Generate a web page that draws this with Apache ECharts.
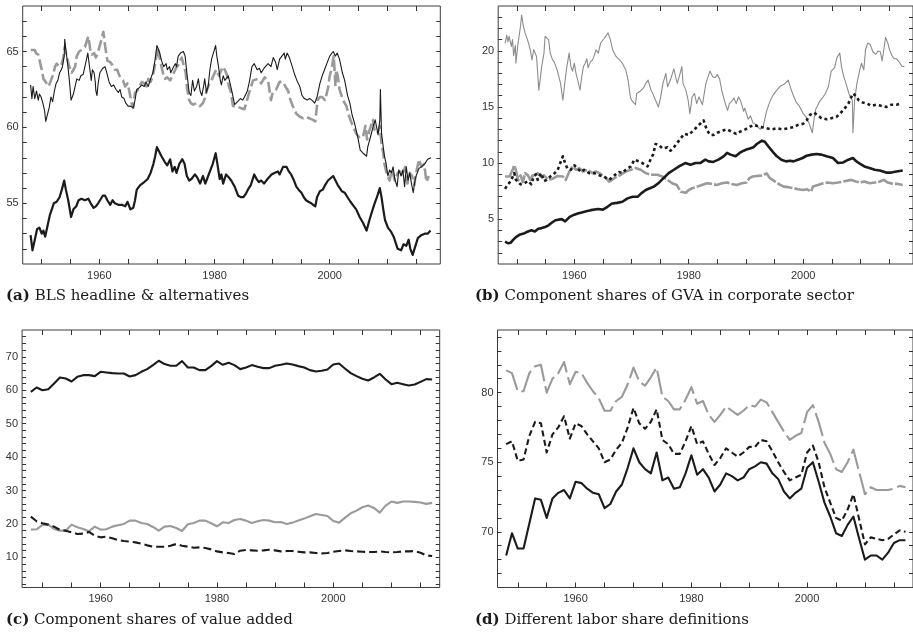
<!DOCTYPE html>
<html><head><meta charset="utf-8">
<script src="https://cdn.jsdelivr.net/npm/echarts@6/dist/echarts.min.js"></script>
<style>html,body{margin:0;padding:0;background:#fff}#c{width:913px;height:632px}</style>
</head><body><div id="c"></div>
<script>
// ---------- tick labels ----------
const xLabelYears = [1960, 1980, 2000];
const xTickYears = [1950, 1955, 1960, 1965, 1970, 1975, 1980, 1985, 1990, 1995, 2000, 2005, 2010, 2015];
const yLabelsA = [55, 60, 65];
const yMinorA = [52, 53, 54, 55, 56, 57, 58, 59, 60, 61, 62, 63, 64, 65, 66, 67];
const yLabelsB = [5, 10, 15, 20];
const yMinorB = [2, 3, 4, 5, 6, 7, 8, 9, 10, 11, 12, 13, 14, 15, 16, 17, 18, 19, 20, 21, 22, 23];
const yLabelsC = [10, 20, 30, 40, 50, 60, 70];
const yMinorC = [2, 4, 6, 8, 10, 12, 14, 16, 18, 20, 22, 24, 26, 28, 30, 32, 34, 36, 38, 40, 42, 44, 46, 48, 50, 52, 54, 56, 58, 60, 62, 64, 66, 68, 70, 72, 74, 76];
const yLabelsD = [70, 75, 80];
const yMinorD = [67, 68, 69, 70, 71, 72, 73, 74, 75, 76, 77, 78, 79, 80, 81, 82, 83, 84];

// ---------- (a) BLS headline & alternatives (quarterly) ----------
const blsHeadline = [[1948.07,62.8],[1948.3,61.9],[1948.5,62.7],[1948.8,61.9],[1949.1,62.4],[1949.4,61.8],[1949.6,62.2],[1949.9,62.0],[1950.2,61.6],[1950.5,61.1],[1950.7,60.4],[1951.0,60.5],[1951.3,61.3],[1951.6,62.0],[1951.9,61.7],[1952.2,62.4],[1952.5,62.9],[1952.8,63.1],[1953.1,63.6],[1953.4,63.8],[1953.6,64.0],[1953.9,64.7],[1954.0,65.8],[1954.2,65.1],[1954.5,64.2],[1954.8,63.1],[1955.1,61.8],[1955.5,62.2],[1955.8,62.7],[1956.1,63.2],[1956.5,63.1],[1956.8,63.4],[1957.2,63.5],[1957.5,64.0],[1958.0,64.9],[1958.3,64.0],[1958.6,63.1],[1958.8,63.8],[1959.1,63.6],[1959.3,63.0],[1959.4,62.4],[1959.6,62.1],[1959.8,62.9],[1960.1,63.6],[1960.6,63.9],[1961.0,64.0],[1961.3,63.6],[1961.7,63.0],[1962.1,62.7],[1962.5,62.8],[1962.9,62.5],[1963.3,62.3],[1963.6,62.5],[1963.9,62.0],[1964.3,61.9],[1964.6,61.6],[1965.0,61.4],[1965.4,61.4],[1965.9,61.3],[1966.2,61.8],[1966.5,62.5],[1966.9,62.6],[1967.4,62.8],[1967.8,62.7],[1968.1,63.0],[1968.5,62.7],[1968.9,63.2],[1969.3,63.6],[1969.7,64.5],[1970.0,65.4],[1970.3,65.1],[1970.5,64.9],[1970.8,64.4],[1971.2,64.0],[1971.6,64.2],[1971.8,63.8],[1972.2,64.0],[1972.4,63.6],[1972.9,64.0],[1973.2,64.2],[1973.4,64.0],[1973.7,64.7],[1974.1,64.9],[1974.6,65.0],[1974.9,64.7],[1975.2,63.6],[1975.6,62.3],[1975.9,62.1],[1976.2,63.1],[1976.5,62.4],[1976.9,62.7],[1977.2,63.2],[1977.5,62.4],[1977.8,62.1],[1978.1,62.7],[1978.3,63.2],[1978.6,62.3],[1978.9,62.7],[1979.2,63.8],[1979.5,64.5],[1979.8,64.9],[1980.2,65.4],[1980.4,64.7],[1980.7,64.0],[1981.0,63.1],[1981.2,62.8],[1981.5,63.4],[1981.8,63.1],[1982.1,63.2],[1982.4,63.4],[1982.7,62.9],[1983.0,62.4],[1983.5,61.5],[1984.0,61.7],[1984.5,61.9],[1984.9,61.8],[1985.2,62.0],[1985.7,62.4],[1986.1,63.1],[1986.5,64.0],[1986.9,64.2],[1987.4,63.8],[1987.8,63.9],[1988.1,63.6],[1988.6,63.9],[1988.9,63.8],[1989.3,64.2],[1989.8,64.0],[1990.2,64.6],[1990.6,64.3],[1990.9,63.8],[1991.3,64.5],[1991.7,64.7],[1992.1,64.9],[1992.3,64.5],[1992.6,64.9],[1993.0,64.6],[1993.5,64.0],[1993.9,63.5],[1994.3,63.1],[1994.8,62.7],[1995.2,62.1],[1995.6,61.9],[1996.1,61.8],[1996.5,61.9],[1996.9,61.8],[1997.4,61.6],[1997.8,62.0],[1998.3,62.9],[1998.7,63.4],[1999.1,63.8],[1999.6,64.3],[2000.0,64.7],[2000.6,65.0],[2001.0,64.7],[2001.3,64.9],[2001.7,64.5],[2002.2,63.6],[2002.6,63.1],[2003.1,62.1],[2003.5,61.6],[2003.9,60.8],[2004.3,60.3],[2004.6,59.8],[2004.9,59.3],[2005.3,58.5],[2005.8,58.3],[2006.4,58.1],[2006.6,58.7],[2007.1,59.4],[2007.5,60.0],[2007.9,60.5],[2008.4,59.5],[2008.7,60.5],[2008.8,62.5],[2009.0,59.6],[2009.3,58.7],[2009.5,58.1],[2009.8,57.6],[2010.1,56.8],[2010.4,57.2],[2010.7,57.0],[2011.0,57.4],[2011.3,56.6],[2011.7,56.1],[2012.0,57.2],[2012.4,56.8],[2012.7,57.2],[2013.0,56.1],[2013.3,57.4],[2013.6,56.5],[2013.9,57.0],[2014.2,56.3],[2014.5,55.7],[2014.8,56.5],[2015.0,56.8],[2015.5,57.3],[2015.9,57.4],[2016.5,57.6],[2017.0,57.9],[2017.6,58.0]];
const blsAlternative = [[1948.1,65.1],[1948.8,65.1],[1949.0,64.9],[1949.4,64.8],[1949.7,64.3],[1950.0,63.8],[1950.3,63.2],[1950.7,63.0],[1951.2,62.7],[1951.4,62.9],[1951.7,63.2],[1952.0,63.5],[1952.3,64.0],[1952.6,64.2],[1953.1,64.0],[1953.5,64.2],[1953.8,64.7],[1954.0,65.3],[1954.3,64.7],[1954.8,64.0],[1955.2,63.6],[1955.5,63.8],[1955.8,64.0],[1956.1,64.7],[1956.5,65.0],[1956.9,65.1],[1957.5,65.3],[1958.1,66.0],[1958.4,65.2],[1958.7,64.8],[1959.1,64.9],[1959.4,64.6],[1959.8,65.0],[1960.3,65.7],[1960.7,66.3],[1961.0,65.4],[1961.4,64.4],[1961.9,64.3],[1962.3,64.1],[1962.7,63.8],[1963.1,63.8],[1963.6,63.3],[1964.1,63.1],[1964.5,62.7],[1964.9,62.9],[1965.2,62.4],[1965.6,61.6],[1965.9,61.3],[1966.2,62.3],[1966.6,62.4],[1966.9,62.7],[1967.4,63.0],[1967.8,62.9],[1968.2,62.7],[1968.5,63.2],[1968.9,63.0],[1969.3,63.4],[1969.6,64.0],[1970.0,64.9],[1970.1,65.3],[1970.4,64.7],[1970.8,64.0],[1971.1,63.5],[1971.4,63.2],[1971.8,63.3],[1972.3,63.1],[1972.7,63.4],[1973.0,63.3],[1973.3,63.9],[1973.7,64.1],[1974.3,64.6],[1974.6,64.7],[1975.0,63.6],[1975.2,62.7],[1975.6,61.8],[1975.9,61.6],[1976.3,61.5],[1976.9,61.6],[1977.5,61.4],[1978.0,61.6],[1978.4,62.0],[1978.6,62.4],[1979.1,62.9],[1979.5,63.1],[1979.8,63.4],[1980.3,63.8],[1980.5,63.6],[1980.8,63.4],[1981.2,63.8],[1981.5,64.0],[1981.9,63.7],[1982.2,63.4],[1982.5,62.7],[1982.8,62.4],[1983.2,61.4],[1983.8,61.4],[1984.4,61.3],[1985.2,61.2],[1986.1,62.4],[1986.7,63.1],[1987.5,63.2],[1988.1,62.9],[1988.7,63.3],[1989.3,63.1],[1989.8,61.8],[1990.1,62.3],[1990.7,62.5],[1991.3,63.0],[1991.9,63.0],[1992.3,62.7],[1992.8,62.4],[1993.0,62.0],[1993.6,61.4],[1994.2,60.9],[1994.8,60.7],[1995.4,60.6],[1995.9,60.7],[1997.1,60.5],[1997.5,60.4],[1997.9,61.8],[1998.3,62.0],[1998.7,62.0],[1999.2,61.8],[1999.7,62.6],[2000.0,63.4],[2000.3,63.8],[2000.7,64.7],[2001.0,62.7],[2001.1,63.8],[2001.4,63.4],[2001.7,62.5],[2002.3,61.8],[2002.9,61.4],[2003.4,60.7],[2004.0,60.1],[2004.6,59.6],[2005.2,59.3],[2005.8,59.4],[2006.2,60.1],[2006.5,59.2],[2006.9,59.8],[2007.5,60.5],[2007.8,59.8],[2008.3,59.6],[2008.7,60.1],[2009.0,58.9],[2009.3,58.3],[2009.5,57.6],[2010.0,56.8],[2010.4,56.5],[2010.8,57.2],[2011.3,56.5],[2011.8,57.0],[2012.2,57.1],[2012.6,56.8],[2013.1,57.4],[2013.5,56.3],[2013.9,57.0],[2014.3,56.8],[2014.7,56.2],[2014.9,56.8],[2015.5,57.9],[2015.9,57.4],[2016.4,57.6],[2016.8,56.4],[2017.2,56.8]];
const blsLowest = [[1948.07,52.9],[1948.4,51.9],[1948.8,52.6],[1949.2,53.3],[1949.6,53.4],[1950.0,53.0],[1950.3,53.2],[1950.6,52.8],[1951.0,53.5],[1951.4,54.2],[1951.7,54.1],[1952.1,55.0],[1952.6,55.1],[1953.1,55.4],[1953.5,55.9],[1953.9,56.5],[1954.2,55.9],[1954.6,55.2],[1955.1,54.1],[1955.5,54.6],[1956.0,54.8],[1956.4,55.2],[1956.9,55.3],[1957.5,55.2],[1958.1,55.3],[1958.5,55.0],[1959.0,54.7],[1959.4,54.8],[1959.8,55.0],[1960.6,55.5],[1961.0,55.5],[1961.4,55.2],[1961.9,54.9],[1962.3,55.2],[1962.7,55.0],[1963.3,54.9],[1963.9,54.9],[1964.5,54.8],[1964.9,55.1],[1965.4,54.6],[1965.9,54.7],[1966.2,55.2],[1966.5,55.9],[1967.1,56.2],[1967.8,56.4],[1968.4,56.6],[1968.9,57.0],[1969.4,57.6],[1969.7,58.1],[1970.0,58.7],[1970.4,58.4],[1970.8,58.1],[1971.4,57.7],[1971.8,57.5],[1972.3,57.9],[1972.7,57.1],[1973.1,57.4],[1973.4,57.0],[1973.9,57.6],[1974.4,57.9],[1974.8,57.6],[1975.2,56.8],[1975.6,56.5],[1976.0,56.6],[1976.6,56.9],[1977.0,56.7],[1977.5,56.3],[1978.0,56.8],[1978.4,56.3],[1978.8,56.7],[1979.2,57.1],[1979.7,57.6],[1980.2,58.3],[1980.5,57.6],[1980.9,56.6],[1981.2,56.9],[1981.5,56.3],[1982.0,56.9],[1982.5,56.7],[1982.9,56.5],[1983.5,56.1],[1984.1,55.5],[1984.6,55.4],[1985.0,55.4],[1985.4,55.6],[1985.8,55.9],[1986.3,56.2],[1986.9,56.9],[1987.3,56.6],[1987.7,56.4],[1988.1,56.5],[1988.6,56.3],[1989.2,56.6],[1989.9,56.9],[1990.4,57.0],[1991.0,57.1],[1991.3,56.9],[1991.9,57.4],[1992.5,57.4],[1992.9,57.1],[1993.3,56.9],[1993.8,56.5],[1994.2,56.1],[1994.6,55.9],[1995.1,55.7],[1995.5,55.4],[1995.9,55.2],[1996.3,55.1],[1996.8,55.0],[1997.5,54.8],[1997.8,55.4],[1998.3,55.8],[1998.8,55.9],[1999.2,56.2],[1999.7,56.5],[2000.6,56.8],[2001.0,56.5],[2001.4,56.2],[2002.1,55.8],[2002.6,55.7],[2003.1,55.4],[2003.6,55.1],[2004.2,54.8],[2004.6,54.6],[2005.2,54.1],[2005.8,53.7],[2006.4,53.2],[2006.9,53.9],[2007.3,54.4],[2007.8,55.0],[2008.2,55.4],[2008.7,56.0],[2009.0,55.4],[2009.3,54.6],[2009.6,53.9],[2010.1,53.4],[2010.7,53.1],[2011.1,52.8],[2011.8,52.0],[2012.4,51.9],[2012.8,52.3],[2013.3,52.2],[2013.7,52.6],[2014.0,52.0],[2014.4,51.6],[2014.8,52.1],[2015.3,52.7],[2015.9,52.9],[2016.5,53.0],[2017.0,53.0],[2017.5,53.2]];

// ---------- (b) Component shares of GVA in corporate sector ----------
const gvaThinGrey = [[1947.9,20.7],[1948.2,21.4],[1948.4,20.8],[1948.6,21.3],[1949.0,20.4],[1949.2,21.0],[1949.4,19.6],[1949.7,20.5],[1949.8,18.9],[1950.1,20.4],[1950.6,22.2],[1950.8,23.2],[1951.1,22.2],[1951.4,21.6],[1951.7,21.7],[1952.0,20.7],[1952.3,20.1],[1952.6,19.2],[1952.9,20.1],[1953.1,20.2],[1953.4,19.5],[1953.6,18.0],[1953.8,16.5],[1954.1,17.7],[1954.3,18.6],[1954.7,19.8],[1954.9,21.3],[1955.2,21.3],[1955.5,21.0],[1955.8,19.8],[1956.2,19.2],[1956.5,19.0],[1957.0,18.3],[1957.6,17.1],[1958.0,15.6],[1958.4,17.4],[1958.7,18.6],[1959.1,19.8],[1959.4,18.6],[1959.7,18.2],[1960.0,18.9],[1960.3,18.0],[1960.6,17.4],[1961.0,16.5],[1961.3,17.7],[1961.6,18.6],[1961.9,18.9],[1962.2,19.3],[1962.4,18.5],[1962.8,19.0],[1963.2,19.2],[1963.5,19.6],[1963.8,20.1],[1964.2,19.8],[1964.6,20.7],[1965.2,21.1],[1965.9,21.6],[1966.3,21.0],[1966.7,20.1],[1967.3,19.5],[1967.7,19.3],[1968.1,19.1],[1968.4,18.9],[1969.0,18.3],[1969.4,17.4],[1969.8,15.9],[1970.0,15.6],[1970.7,15.2],[1970.9,16.2],[1971.5,16.4],[1972.1,16.7],[1972.5,17.1],[1972.9,17.4],[1973.4,16.5],[1973.8,16.1],[1974.2,15.6],[1974.7,15.0],[1975.1,15.9],[1975.5,17.1],[1976.0,18.0],[1976.3,16.8],[1976.8,17.4],[1977.4,18.4],[1977.7,17.7],[1978.0,17.1],[1978.5,18.0],[1978.8,18.6],[1979.0,17.1],[1979.5,16.5],[1979.9,15.6],[1980.2,14.4],[1980.6,15.9],[1981.0,16.2],[1981.4,15.3],[1981.8,15.9],[1982.4,15.2],[1983.0,17.1],[1983.7,18.2],[1984.2,17.7],[1984.6,17.6],[1985.0,17.9],[1985.4,17.5],[1985.8,16.4],[1986.4,15.3],[1986.8,14.7],[1987.1,15.3],[1987.5,15.5],[1987.9,15.8],[1988.3,15.3],[1988.7,15.9],[1989.1,15.5],[1989.6,14.6],[1989.8,14.9],[1990.4,13.9],[1990.8,14.2],[1991.2,13.6],[1991.8,13.4],[1992.5,13.0],[1993.0,13.2],[1993.6,14.6],[1994.2,15.5],[1994.8,16.1],[1995.4,16.5],[1995.7,16.4],[1996.1,16.9],[1996.6,17.0],[1997.4,17.4],[1997.8,16.7],[1998.3,16.0],[1998.8,15.4],[1999.3,15.1],[1999.9,14.5],[2000.5,14.1],[2001.0,13.6],[2001.6,12.7],[2001.9,13.9],[2002.2,14.8],[2002.9,15.5],[2003.5,15.9],[2003.9,16.2],[2004.4,16.8],[2004.9,18.2],[2005.5,18.5],[2005.9,19.4],[2006.4,19.8],[2006.7,18.6],[2007.1,17.7],[2007.6,16.9],[2008.0,16.2],[2008.3,15.8],[2008.6,15.6],[2008.7,12.7],[2009.0,15.6],[2009.4,17.1],[2009.9,18.3],[2010.2,18.9],[2010.6,18.3],[2010.9,20.1],[2011.3,20.7],[2011.7,20.6],[2012.2,19.9],[2012.7,19.7],[2013.1,20.0],[2013.5,19.9],[2013.8,19.1],[2014.1,20.1],[2014.4,21.2],[2014.8,20.7],[2015.1,20.1],[2015.5,19.6],[2015.9,19.3],[2016.3,19.3],[2016.8,19.0],[2017.3,18.6],[2017.7,18.6]];
const gvaDotted = [[1947.9,7.7],[1948.4,8.1],[1948.9,8.4],[1949.5,9.1],[1949.8,8.5],[1950.6,8.1],[1951.3,8.2],[1951.9,8.4],[1952.5,8.1],[1952.9,8.8],[1953.3,9.0],[1953.6,8.5],[1954.2,9.1],[1954.7,8.4],[1955.2,8.5],[1955.8,8.8],[1956.4,9.0],[1957.1,9.4],[1958.0,10.6],[1958.4,10.0],[1958.8,9.5],[1959.4,9.4],[1960.0,9.8],[1960.6,9.5],[1961.2,9.2],[1961.7,9.4],[1962.6,9.1],[1963.5,9.1],[1964.4,8.9],[1965.2,8.8],[1966.1,8.5],[1967.0,8.9],[1967.8,9.2],[1968.4,9.1],[1969.0,9.4],[1969.9,9.7],[1970.5,10.3],[1971.0,10.2],[1971.9,10.0],[1972.8,9.7],[1973.4,10.4],[1973.8,10.8],[1974.2,11.7],[1974.8,11.6],[1975.4,11.3],[1976.3,11.4],[1976.8,11.1],[1977.4,11.4],[1978.3,12.0],[1979.2,12.6],[1980.0,12.5],[1980.6,12.8],[1981.2,13.1],[1982.0,13.5],[1982.6,13.8],[1983.2,12.9],[1983.8,12.5],[1984.3,12.5],[1985.0,12.7],[1986.0,12.9],[1986.7,13.0],[1987.5,12.8],[1988.3,12.6],[1989.0,12.8],[1989.9,13.0],[1990.6,13.2],[1991.3,13.4],[1992.0,13.3],[1992.8,13.2],[1993.6,13.1],[1994.5,13.0],[1995.4,13.1],[1996.4,13.0],[1997.4,13.1],[1998.3,13.2],[1999.1,13.4],[2000.0,13.5],[2000.6,13.8],[2001.2,14.3],[2001.9,14.5],[2002.4,14.3],[2003.2,14.0],[2004.1,13.9],[2004.9,14.0],[2005.8,14.1],[2006.4,14.4],[2007.0,14.7],[2007.9,15.3],[2008.7,16.2],[2009.2,16.0],[2009.7,15.6],[2010.4,15.4],[2011.2,15.3],[2011.9,15.1],[2012.8,15.2],[2013.6,15.1],[2014.5,15.0],[2015.4,15.2],[2016.3,15.2],[2017.1,15.3]];
const gvaBlack = [[1947.9,3.0],[1948.4,2.85],[1948.9,2.9],[1949.3,3.15],[1949.8,3.4],[1950.4,3.6],[1951.3,3.75],[1951.9,3.9],[1952.5,4.0],[1953.1,3.9],[1953.7,4.15],[1954.3,4.2],[1954.9,4.3],[1955.5,4.45],[1956.1,4.7],[1956.7,4.9],[1957.8,5.0],[1958.4,4.8],[1959.2,5.2],[1960.0,5.4],[1960.6,5.5],[1961.3,5.6],[1962.1,5.7],[1962.9,5.8],[1964.1,5.9],[1965.0,5.85],[1965.8,6.1],[1966.6,6.4],[1967.5,6.45],[1968.4,6.55],[1969.3,6.85],[1970.2,7.0],[1971.1,7.0],[1971.7,7.3],[1972.5,7.6],[1973.2,7.75],[1973.9,7.9],[1974.8,8.25],[1975.6,8.65],[1976.5,9.1],[1977.4,9.4],[1978.3,9.7],[1979.4,10.0],[1980.3,9.85],[1981.2,10.0],[1982.0,10.0],[1982.9,10.3],[1983.5,10.15],[1984.3,10.1],[1985.2,10.3],[1986.1,10.6],[1986.7,10.9],[1987.3,10.75],[1988.2,10.6],[1988.9,10.9],[1989.6,11.1],[1990.1,11.2],[1990.7,11.3],[1991.3,11.4],[1991.9,11.7],[1992.8,12.0],[1993.3,11.9],[1993.9,11.5],[1994.7,11.0],[1995.4,10.6],[1996.2,10.3],[1997.0,10.15],[1997.7,10.2],[1998.3,10.15],[1999.1,10.3],[1999.9,10.45],[2000.6,10.65],[2001.5,10.75],[2002.3,10.8],[2003.2,10.75],[2004.1,10.6],[2005.2,10.45],[2006.1,10.0],[2007.0,10.05],[2007.9,10.3],[2008.7,10.45],[2009.3,10.15],[2010.2,9.85],[2010.7,9.7],[2011.6,9.55],[2012.5,9.4],[2013.4,9.34],[2014.5,9.15],[2015.4,9.15],[2016.3,9.25],[2017.4,9.34]];
const gvaThickGrey = [[1947.9,8.8],[1948.7,8.8],[1949.3,9.5],[1949.5,9.8],[1949.8,9.35],[1950.2,8.45],[1950.6,8.9],[1951.0,8.3],[1951.4,9.1],[1951.9,8.9],[1952.3,8.5],[1952.7,8.9],[1953.1,8.8],[1953.6,9.1],[1954.2,8.8],[1954.7,8.9],[1955.4,8.5],[1956.2,8.6],[1957.1,8.85],[1958.0,8.8],[1958.5,8.5],[1959.1,9.2],[1959.7,9.7],[1960.3,9.4],[1960.9,9.55],[1961.5,9.25],[1962.3,9.4],[1963.2,9.1],[1963.8,9.25],[1964.4,9.1],[1965.2,8.8],[1966.1,8.35],[1967.0,8.65],[1968.1,8.95],[1969.0,9.25],[1969.9,9.4],[1970.7,9.55],[1971.6,9.4],[1972.5,9.1],[1973.4,8.95],[1974.5,8.95],[1975.4,8.8],[1976.3,8.5],[1977.1,8.2],[1977.9,8.05],[1978.6,7.45],[1979.5,7.35],[1980.0,7.6],[1980.6,7.75],[1981.5,7.9],[1982.3,8.05],[1983.2,8.2],[1984.0,8.14],[1984.9,8.05],[1985.8,8.2],[1986.7,8.26],[1987.5,8.14],[1988.4,8.05],[1989.3,8.2],[1990.1,8.26],[1990.6,8.65],[1991.2,8.8],[1992.2,8.86],[1993.0,8.89],[1993.6,9.09],[1994.2,8.65],[1995.1,8.35],[1996.0,8.05],[1996.6,7.9],[1997.4,7.85],[1998.3,7.76],[1999.1,7.67],[2000.0,7.6],[2000.6,7.67],[2001.4,7.46],[2001.7,7.9],[2002.6,8.05],[2003.5,8.2],[2004.3,8.26],[2005.2,8.2],[2006.1,8.26],[2007.0,8.35],[2008.4,8.5],[2009.2,8.35],[2009.9,8.26],[2010.7,8.35],[2011.6,8.2],[2012.5,8.26],[2013.4,8.35],[2014.1,8.5],[2014.8,8.26],[2015.7,8.14],[2016.6,8.14],[2017.4,8.05]];

// ---------- (c) and (d): annual ----------
const years = [1948,1949,1950,1951,1952,1953,1954,1955,1956,1957,1958,1959,1960,1961,1962,1963,1964,1965,1966,1967,1968,1969,1970,1971,1972,1973,1974,1975,1976,1977,1978,1979,1980,1981,1982,1983,1984,1985,1986,1987,1988,1989,1990,1991,1992,1993,1994,1995,1996,1997,1998,1999,2000,2001,2002,2003,2004,2005,2006,2007,2008,2009,2010,2011,2012,2013,2014,2015,2016,2017];
const vaLabor = [59.5,60.8,60.0,60.3,62.0,63.8,63.5,62.6,64.0,64.5,64.5,64.2,65.5,65.3,65.1,65.0,65.0,64.1,64.5,65.5,66.3,67.5,68.8,67.8,67.3,67.3,68.7,66.8,66.8,66.0,66.0,67.2,68.7,67.6,68.2,67.5,66.3,66.8,67.5,67.0,66.6,66.6,67.3,67.6,68.0,67.7,67.2,66.8,66.0,65.6,65.8,66.2,67.7,68.0,66.5,65.1,64.2,63.4,62.9,63.8,64.9,63.2,61.8,62.2,61.8,61.4,61.7,62.5,63.3,63.2];
const vaCapital = [18.3,18.4,19.7,19.8,18.5,18.0,18.0,19.8,19.0,18.5,17.8,19.2,18.3,18.4,19.2,19.6,20.0,21.0,21.0,20.3,20.0,19.1,18.0,19.2,19.4,18.8,17.9,19.9,20.3,21.0,21.0,20.2,19.3,20.5,20.3,21.2,21.5,21.0,20.3,20.8,21.2,21.0,20.5,20.6,20.0,20.4,21.0,21.6,22.3,23.0,22.7,22.4,20.9,20.4,21.8,23.2,24.0,25.0,25.5,24.8,23.4,25.5,26.7,26.3,26.7,26.7,26.6,26.4,26.0,26.3];
const vaOther = [22.2,20.8,20.2,19.8,19.2,18.2,18.0,17.5,17.0,17.1,17.6,16.5,16.0,16.2,15.7,15.2,14.9,14.7,14.5,14.1,13.6,13.2,13.2,13.2,13.5,14.0,13.5,13.2,12.9,13.0,12.8,12.4,11.8,11.5,11.3,11.0,12.0,12.2,12.1,12.0,12.1,12.3,12.1,11.8,11.9,11.9,11.7,11.5,11.5,11.3,11.2,11.3,11.7,11.9,12.1,11.9,11.8,11.7,11.6,11.6,11.8,11.6,11.5,11.6,11.8,11.8,11.9,11.4,10.6,10.4];
const lsGrey = [81.6,81.4,80.1,80.1,81.4,81.9,82.0,80.0,81.0,81.4,82.2,80.6,81.5,81.4,80.7,80.1,79.6,78.7,78.7,79.4,79.7,80.6,81.8,80.8,80.5,81.1,81.8,79.7,79.4,78.8,78.8,79.5,80.4,79.2,79.4,78.4,77.9,78.4,79.0,78.7,78.4,78.7,79.1,79.0,79.5,79.3,78.6,77.9,77.2,76.6,76.9,77.1,78.6,79.1,77.9,76.4,75.6,74.5,74.3,75.0,75.9,74.3,72.7,73.2,73.0,73.0,73.0,73.1,73.3,73.2];
const lsDashed = [76.3,76.5,75.1,75.2,76.9,77.9,77.8,75.7,77.0,77.5,78.3,76.7,77.8,77.6,77.0,76.5,76.0,75.0,75.2,75.9,76.4,77.5,78.9,77.8,77.4,77.9,78.8,76.6,76.3,75.6,75.6,76.5,77.6,76.3,76.5,75.6,74.8,75.3,76.0,75.7,75.4,75.7,76.1,76.1,76.6,76.5,75.8,75.0,74.3,73.7,73.9,74.1,75.7,76.2,75.0,73.2,72.1,71.0,70.8,71.6,72.7,70.9,69.1,69.6,69.5,69.4,69.5,69.8,70.1,70.0];
const lsSolid = [68.3,69.9,68.8,68.8,70.6,72.4,72.3,71.0,72.4,72.8,73.0,72.4,73.6,73.5,73.1,72.8,72.7,71.7,72.0,72.9,73.4,74.6,76.0,75.0,74.5,74.2,75.7,73.7,73.9,73.1,73.2,74.2,75.5,74.1,74.5,73.9,72.9,73.4,74.2,74.0,73.7,73.9,74.5,74.7,75.0,74.9,74.2,73.8,72.9,72.4,72.8,73.1,74.6,75.0,73.6,72.1,71.1,69.9,69.7,70.5,71.1,69.5,68.0,68.3,68.3,68.0,68.5,69.2,69.4,69.4];

const captions = [
  ['(a)', 'BLS headline & alternatives'],
  ['(b)', 'Component shares of GVA in corporate sector'],
  ['(c)', 'Component shares of value added'],
  ['(d)', 'Different labor share definitions']
];

// ---------- layout ----------
const BLACK = '#1b1b1b', GREY = '#9a9a9a';
const pair = (xs, ys) => xs.map((x, i) => [x, ys[i]]);
const panels = [
  {left: 22.7, top: 6, width: 417.6, height: 258, xMin: 1946.7, xMax: 2019.2, yMin: 51, yMax: 68, yLab: yLabelsA, yTick: yMinorA, capX: 6, capY: 289,
   lines: [
     {d: blsAlternative, c: GREY, w: 2.6, t: [11, 4]},
     {d: blsHeadline, c: BLACK, w: 1.1, t: 'solid'},
     {d: blsLowest, c: BLACK, w: 2.2, t: 'solid'}]},
  {left: 498.2, top: 6, width: 417.6, height: 258, xMin: 1946.7, xMax: 2019.2, yMin: 1, yMax: 24, yLab: yLabelsB, yTick: yMinorB, capX: 475, capY: 289,
   lines: [
     {d: gvaThinGrey, c: '#8c8c8c', w: 1.1, t: 'solid'},
     {d: gvaThickGrey, c: GREY, w: 2.6, t: [16, 2]},
     {d: gvaBlack, c: BLACK, w: 2.6, t: 'solid'},
     {d: gvaDotted, c: BLACK, w: 2.6, t: [3, 3]}]},
  {left: 22.1, top: 330, width: 417.6, height: 257.5, xMin: 1946.5, xMax: 2018.3, yMin: 1, yMax: 78, yLab: yLabelsC, yTick: yMinorC, capX: 6, capY: 612.5,
   lines: [
     {d: pair(years, vaCapital), c: GREY, w: 2.1, t: 'solid'},
     {d: pair(years, vaOther), c: BLACK, w: 2.1, t: [8, 4]},
     {d: pair(years, vaLabor), c: BLACK, w: 2.1, t: 'solid'}]},
  {left: 497.5, top: 330, width: 417.6, height: 257.5, xMin: 1946.5, xMax: 2018.3, yMin: 66, yMax: 84.5, yLab: yLabelsD, yTick: yMinorD, capX: 475, capY: 612.5,
   lines: [
     {d: pair(years, lsGrey), c: GREY, w: 2.1, t: [24, 5]},
     {d: pair(years, lsDashed), c: BLACK, w: 2.1, t: [6, 3.5]},
     {d: pair(years, lsSolid), c: BLACK, w: 2.1, t: 'solid'}]}
];

const grid = [], xAxis = [], yAxis = [], series = [], title = [];
const tickStyle = {color: '#333', width: 1};
const labelStyle = {fontFamily: 'Liberation Sans', fontSize: 11, color: '#333', formatter: v => String(v)};
const CAP_FONT = 'DejaVu Serif';
panels.forEach((p, i) => {
  grid.push({left: p.left, top: p.top, width: p.width, height: p.height, show: true, borderColor: '#3c3c3c', borderWidth: 1, backgroundColor: 'transparent'});
  const xb = {type: 'value', gridIndex: i, min: p.xMin, max: p.xMax, splitLine: {show: false}, axisLine: {show: false}};
  xAxis.push(Object.assign({}, xb, {position: 'bottom',
    axisTick: {show: true, inside: true, length: 5, customValues: xTickYears, lineStyle: tickStyle},
    axisLabel: Object.assign({show: true, customValues: xLabelYears, margin: 6}, labelStyle)}));
  xAxis.push(Object.assign({}, xb, {position: 'top',
    axisTick: {show: true, inside: true, length: 5, customValues: xTickYears, lineStyle: tickStyle},
    axisLabel: {show: false}}));
  const yb = {type: 'value', gridIndex: i, min: p.yMin, max: p.yMax, splitLine: {show: false}, axisLine: {show: false}};
  yAxis.push(Object.assign({}, yb, {position: 'left',
    axisTick: {show: true, inside: true, length: 4, customValues: p.yTick, lineStyle: tickStyle},
    axisLabel: Object.assign({show: true, customValues: p.yLab, margin: 4}, labelStyle)}));
  yAxis.push(Object.assign({}, yb, {position: 'right',
    axisTick: {show: true, inside: true, length: 4, customValues: p.yTick, lineStyle: tickStyle},
    axisLabel: {show: false}}));
  p.lines.forEach((l, k) => {
    series.push({type: 'line', xAxisIndex: 2 * i, yAxisIndex: 2 * i, data: l.d, symbol: 'none', showSymbol: false,
      silent: true, animation: false, clip: true, z: 2 + k,
      lineStyle: {color: l.c, width: l.w, type: l.t, cap: 'butt', join: 'round'}});
  });
  title.push({text: '{b|' + captions[i][0] + '} ' + captions[i][1], left: p.capX, top: p.capY, padding: 0,
    textStyle: {fontFamily: CAP_FONT, fontSize: 15, fontWeight: 'normal', color: '#1a1a1a',
      rich: {b: {fontFamily: CAP_FONT, fontSize: 15, fontWeight: 'bold', color: '#1a1a1a'}}}});
});

const chart = echarts.init(document.getElementById('c'), null, {renderer: 'canvas'});
chart.setOption({animation: false, backgroundColor: '#fff', title, grid, xAxis, yAxis, series});
</script></body></html>
